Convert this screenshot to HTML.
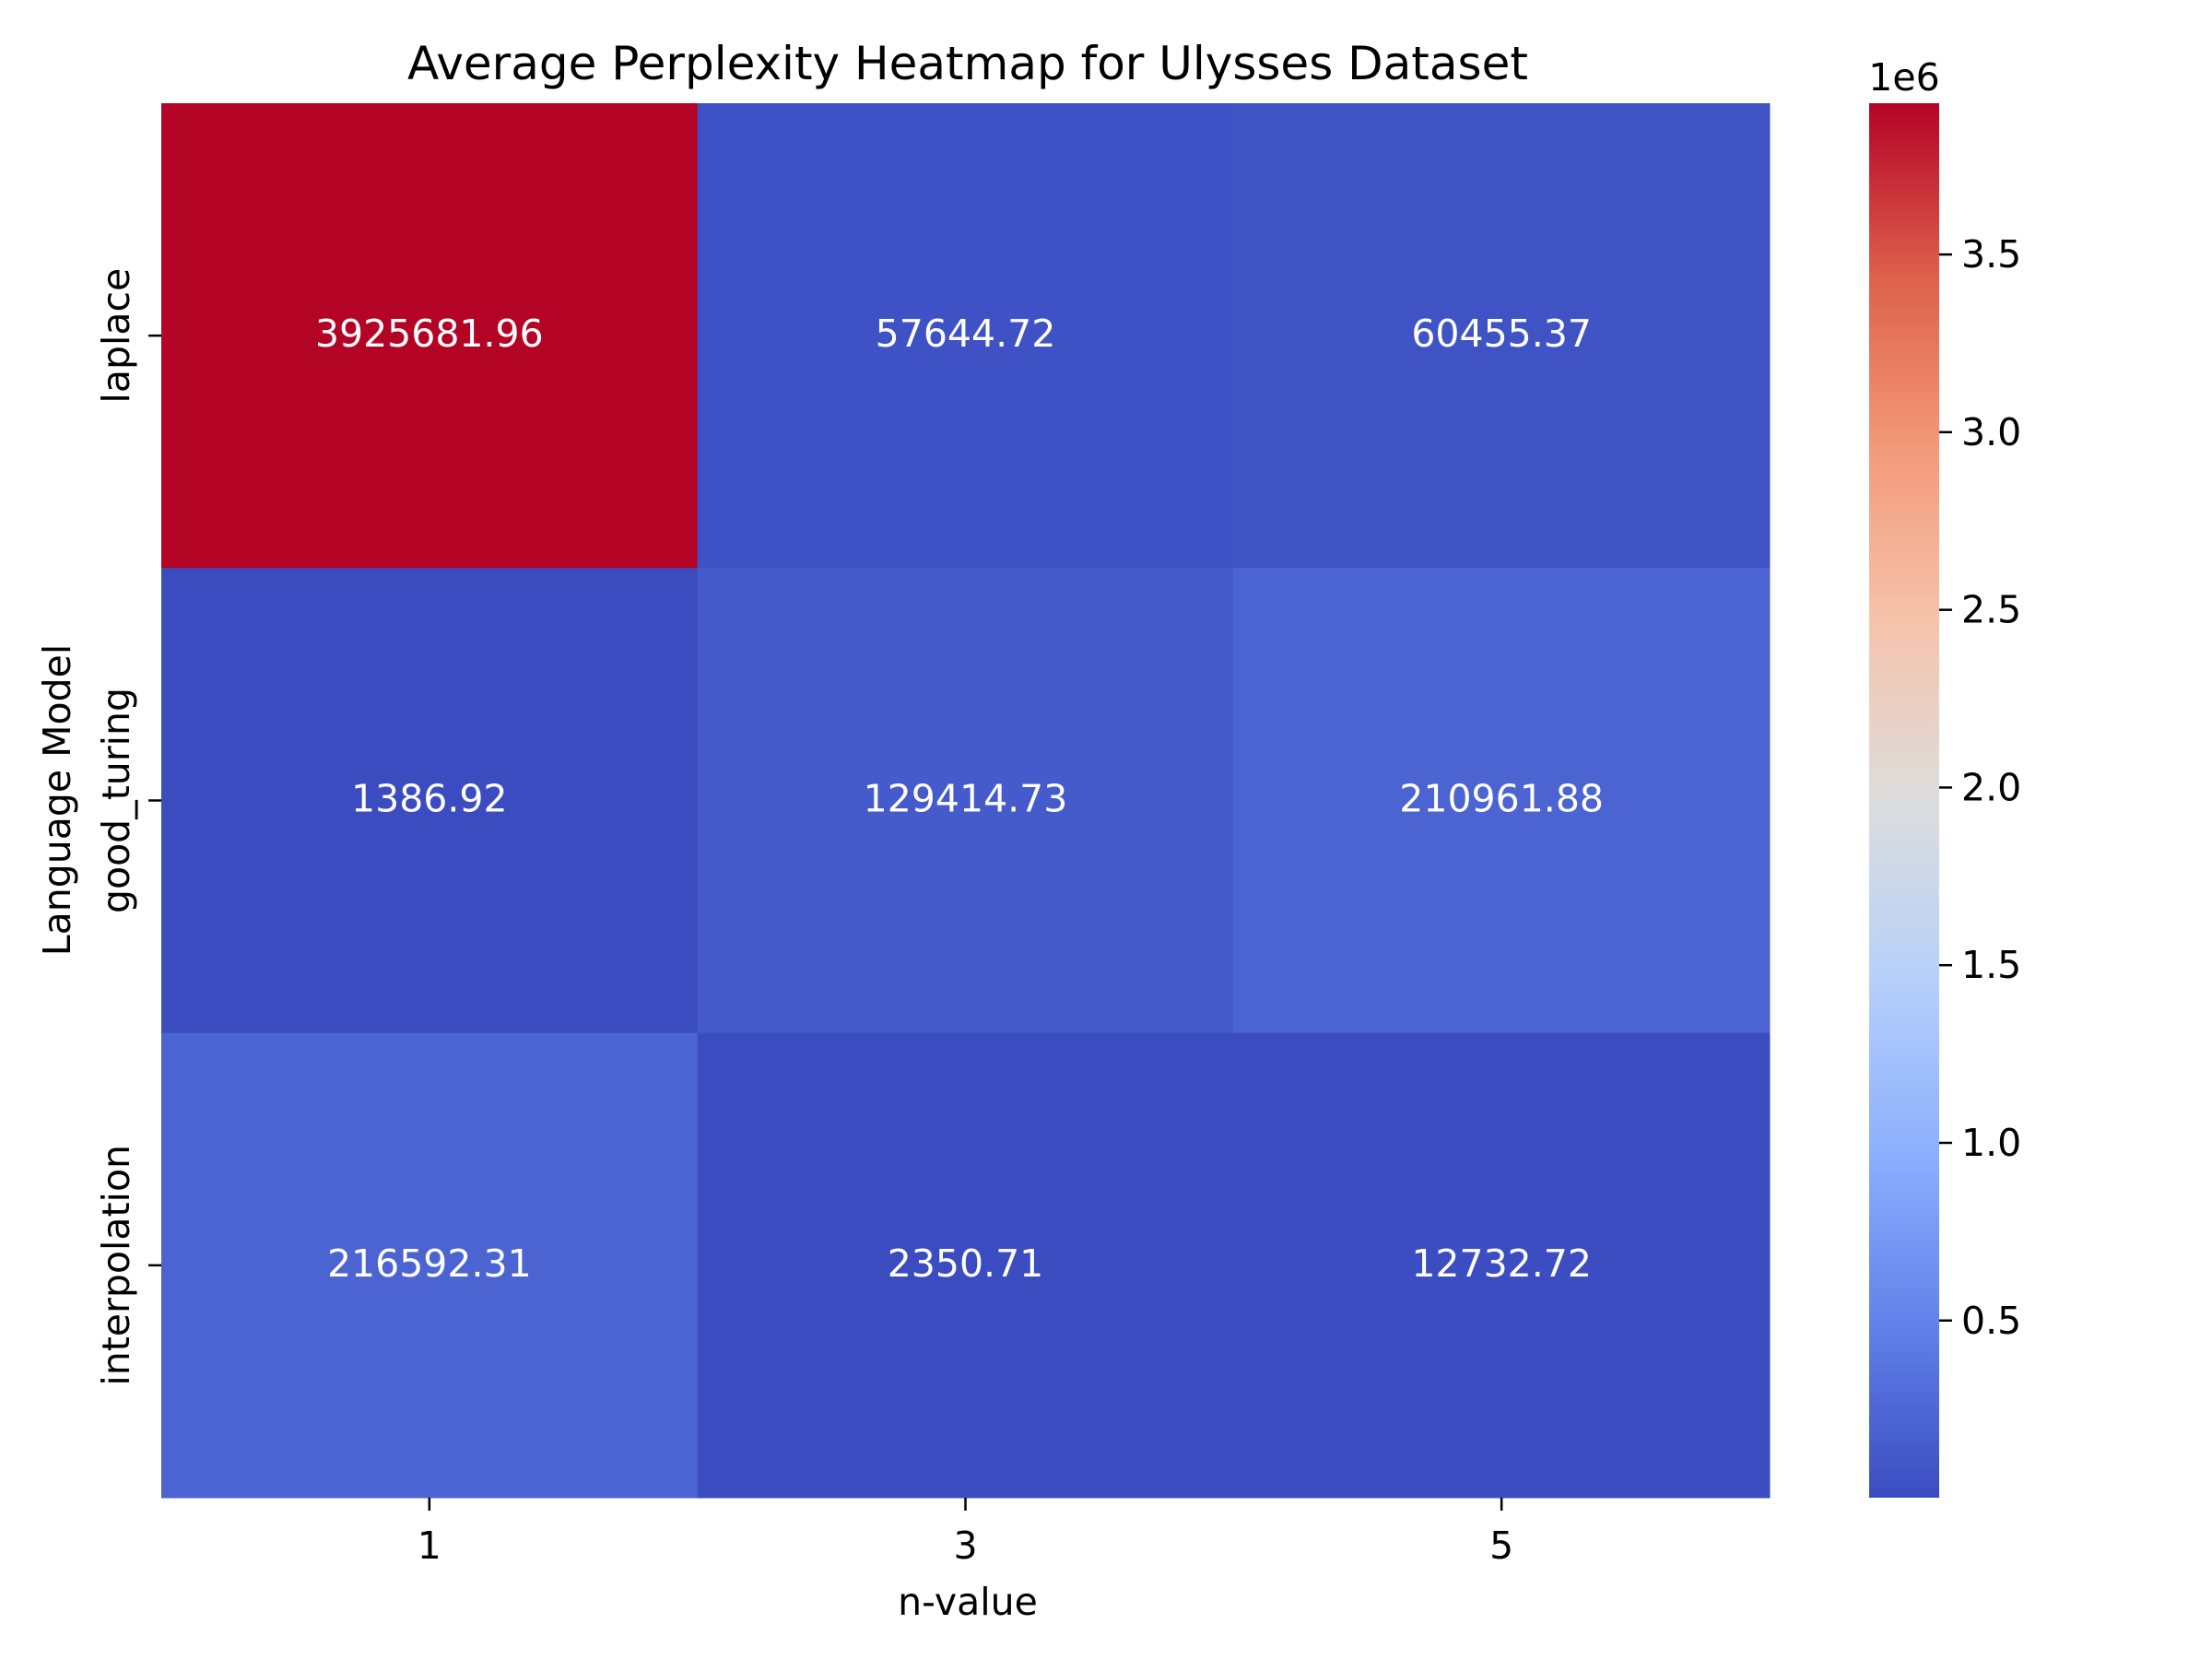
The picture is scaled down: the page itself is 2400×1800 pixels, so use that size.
<!DOCTYPE html>
<html><head><meta charset="utf-8"><style>
html,body{margin:0;padding:0;background:#fff;}
svg{display:block;font-family:"DejaVu Sans","Liberation Sans",sans-serif;}
</style></head><body>
<svg id="chart" width="2400" height="1800" viewBox="0 0 2400 1800" xmlns="http://www.w3.org/2000/svg">
<rect width="2400" height="1800" fill="#fff"/>
<text x="1050" y="86" font-size="50" text-anchor="middle" fill="#000">Average Perplexity Heatmap for Ulysses Dataset</text>
<text x="1050" y="1752" font-size="41" text-anchor="middle" fill="#000">n-value</text>
<text transform="translate(76,868) rotate(-90)" font-size="41" text-anchor="middle" fill="#000">Language Model</text>
<text x="2066" y="98" font-size="41" text-anchor="middle" fill="#000">1e6</text>
<g id="cells"></g>
<g id="axes"></g>
<defs><linearGradient id="cgrad" x1="0" y1="1" x2="0" y2="0"></linearGradient></defs>
<rect x="2028" y="112" width="76" height="1513" fill="url(#cgrad)"/>
<g id="cbticks"></g>
</svg>
<script>
const categories = ["1","3","5"];
const models = ["laplace","good_turing","interpolation"];
const rowLaplace = [3925681.96, 57644.72, 60455.37];
const rowGoodTuring = [1386.92, 129414.73, 210961.88];
const rowInterpolation = [216592.31, 2350.71, 12732.72];
const cbTickValues = [0.5e6, 1.0e6, 1.5e6, 2.0e6, 2.5e6, 3.0e6, 3.5e6];
const cbTickLabels = ["0.5","1.0","1.5","2.0","2.5","3.0","3.5"];

const NS = "http://www.w3.org/2000/svg";
const rows = [rowLaplace, rowGoodTuring, rowInterpolation];
const PL = 175, PR = 1920, PT = 112, PB = 1625;
const CBT = 112, CBB = 1625, CBX = 2104;
const all = rows.flat();
const vmin = Math.min(...all), vmax = Math.max(...all);
const cw = (PR - PL) / categories.length, ch = (PB - PT) / models.length;
const xPos = i => PL + i * cw;
const yPos = j => PT + j * ch;
const cbY = v => CBB - (v - vmin) / (vmax - vmin) * (CBB - CBT);

const cmap = [[0,[59,76,192]],[0.125,[98,130,234]],[0.25,[141,176,254]],[0.375,[184,208,249]],[0.5,[221,221,221]],[0.625,[245,196,173]],[0.75,[244,154,123]],[0.875,[222,96,77]],[1,[180,4,38]]];
function color(t){
  t = Math.max(0, Math.min(1, t));
  for (let k = 0; k < cmap.length - 1; k++) {
    const [a, ca] = cmap[k], [b, cb] = cmap[k+1];
    if (t <= b) {
      const f = (t - a) / (b - a);
      return "rgb(" + ca.map((c, i) => Math.round(c + (cb[i] - c) * f)).join(",") + ")";
    }
  }
  return "rgb(180,4,38)";
}
function mk(tag, attrs, parent){
  const e = document.createElementNS(NS, tag);
  for (const k in attrs) e.setAttribute(k, attrs[k]);
  parent.appendChild(e);
  return e;
}
const cells = document.getElementById("cells");
rows.forEach((row, j) => {
  row.forEach((v, i) => {
    const r = mk("rect", {x: xPos(i), y: yPos(j), width: cw + 0.5, height: ch + 0.5, fill: color((v - vmin) / (vmax - vmin))}, cells);
    
    
    const t = mk("text", {x: xPos(i) + cw / 2, y: yPos(j) + ch / 2 + 12, "font-size": 41, "text-anchor": "middle", fill: "#fff"}, cells);
    t.textContent = v.toFixed(2);
    
    
  });
});
const axes = document.getElementById("axes");
categories.forEach((c, i) => {
  const x = xPos(i) + cw / 2;
  const l = mk("line", {x1: x, x2: x, y1: PB, y2: PB + 14, stroke: "#000", "stroke-width": 2.5}, axes);
  
  
  const t = mk("text", {x: x, y: PB + 66, "font-size": 41, "text-anchor": "middle", fill: "#000"}, axes);
  t.textContent = c;
  
  
});
models.forEach((m, j) => {
  const y = yPos(j) + ch / 2;
  const l = mk("line", {x1: PL - 14, x2: PL, y1: y, y2: y, stroke: "#000", "stroke-width": 2.5}, axes);
  
  
  const t = mk("text", {transform: "translate(140," + y + ") rotate(-90)", "font-size": 41, "text-anchor": "middle", fill: "#000"}, axes);
  t.textContent = m;
  
  
});
const grad = document.getElementById("cgrad");
for (let k = 0; k <= 40; k++) {
  mk("stop", {offset: (k / 40), "stop-color": color(k / 40)}, grad);
}
const cbt = document.getElementById("cbticks");
cbTickValues.forEach((v, i) => {
  const y = cbY(v);
  const l = mk("line", {x1: CBX, x2: CBX + 14, y1: y, y2: y, stroke: "#000", "stroke-width": 2.5}, cbt);
  
  
  const t = mk("text", {x: CBX + 24, y: y + 14, "font-size": 41, fill: "#000"}, cbt);
  t.textContent = cbTickLabels[i];
  
  
});
</script>
</body></html>
